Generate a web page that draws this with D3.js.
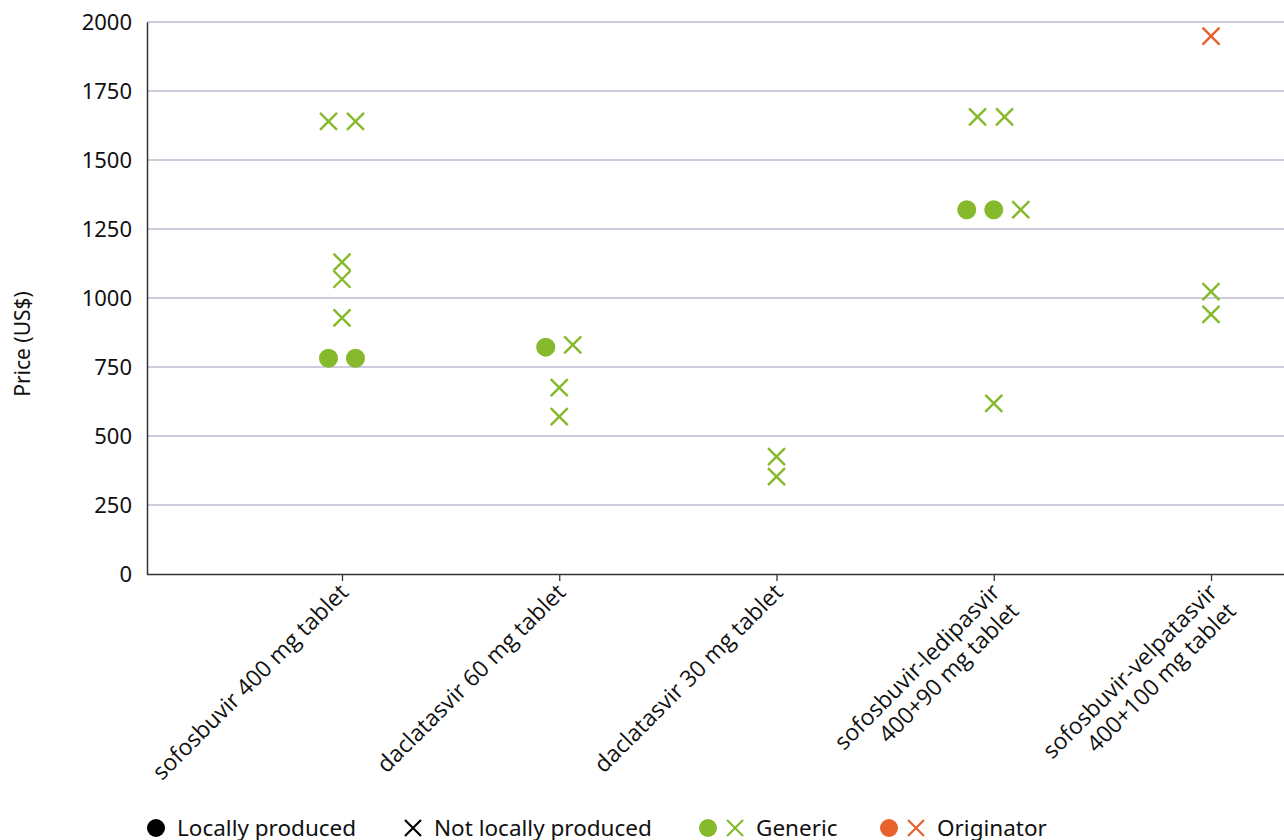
<!DOCTYPE html>
<html>
<head>
<meta charset="utf-8">
<script src="https://cdn.jsdelivr.net/npm/d3@7"></script>
<style>
  html, body { margin: 0; padding: 0; background: #fff; }
  svg { display: block; }
</style>
</head>
<body>
<svg id="chart" width="1284" height="840"></svg>
<script>
const categories = [
  ["sofosbuvir 400 mg tablet"],
  ["daclatasvir 60 mg tablet"],
  ["daclatasvir 30 mg tablet"],
  ["sofosbuvir-ledipasvir", "400+90 mg tablet"],
  ["sofosbuvir-velpatasvir", "400+100 mg tablet"]
];
const yTicks = [0, 250, 500, 750, 1000, 1250, 1500, 1750, 2000];

// one entry per marker
const pointCategory = [0, 0, 0, 0, 0, 0, 0,  1, 1, 1, 1,  2, 2,  3, 3, 3, 3, 3, 3,  4, 4, 4];
const pointPrice    = [1640, 1640, 1130, 1068, 928, 782, 782,  822, 830, 675, 570,  425, 353,  1656, 1656, 1320, 1320, 1320, 618,  1949, 1023, 941];
const pointLocal    = [false, false, false, false, false, true, true,  true, false, false, false,  false, false,  false, false, true, true, false, false,  false, false, false];
const pointProducer = ["Generic","Generic","Generic","Generic","Generic","Generic","Generic",
                       "Generic","Generic","Generic","Generic",
                       "Generic","Generic",
                       "Generic","Generic","Generic","Generic","Generic","Generic",
                       "Originator","Generic","Generic"];
const pointDodge    = [-0.5, 0.5, 0, 0, 0, -0.5, 0.5,  -0.5, 0.5, 0, 0,  0, 0,  -0.6, 0.4, -1, 0, 1, 0,  0, 0, 0];

const legendItems = [
  { label: "Locally produced", shapes: ["circle"], colors: ["#000"] },
  { label: "Not locally produced", shapes: ["cross"], colors: ["#000"] },
  { label: "Generic", shapes: ["circle", "cross"], colors: ["#86b92b", "#86b92b"] },
  { label: "Originator", shapes: ["circle", "cross"], colors: ["#e8612c", "#e8612c"] }
];

const colorScale = d3.scaleOrdinal().domain(["Generic", "Originator"]).range(["#86b92b", "#e8612c"]);

const svg = d3.select("#chart");
const plot = { left: 147, right: 1284, top: 22, bottom: 574 };

const x = d3.scalePoint()
  .domain(d3.range(categories.length))
  .range([342, 1211]);
const y = d3.scaleLinear().domain([0, 2000]).range([plot.bottom, plot.top]);
const dodgeStep = 27;

// gridlines
svg.append("g")
  .selectAll("line")
  .data(yTicks.filter(t => t > 0))
  .join("line")
  .attr("x1", plot.left).attr("x2", plot.right)
  .attr("y1", d => y(d)).attr("y2", d => y(d))
  .attr("stroke", "#bdbad0").attr("stroke-width", 1.3);

// y axis
const yAxis = svg.append("g")
  .attr("transform", `translate(${plot.left},0)`)
  .call(d3.axisLeft(y).tickValues(yTicks).tickSize(0).tickPadding(15).tickFormat(d3.format("d")));
yAxis.select(".domain").attr("stroke", "#333").attr("stroke-width", 1.5);
yAxis.selectAll("text")
  .attr("font-family", "'Noto Sans', sans-serif")
  .attr("font-size", 22)
  .attr("fill", "#111");

// x axis
const xAxis = svg.append("g")
  .attr("transform", `translate(0,${plot.bottom})`)
  .call(d3.axisBottom(x).tickSize(7).tickFormat(() => ""));
xAxis.select(".domain").attr("d", `M${plot.left},0.5H${plot.right}`).attr("stroke", "#333").attr("stroke-width", 1.5);
xAxis.selectAll(".tick line").attr("stroke", "#333").attr("stroke-width", 1.3);

// category labels
const labels = svg.append("g");
categories.forEach((lines, i) => {
  const t = labels.append("text")
    .attr("transform", `translate(${x(i) + 2},${plot.bottom + 14}) rotate(-45)`)
    .attr("text-anchor", "end")
    .attr("font-family", "'Open Sans', sans-serif")
    .attr("font-size", 23)
    .attr("fill", "#111");
  lines.forEach((ln, j) => {
    t.append("tspan").attr("x", 0).attr("dy", j === 0 ? "0.35em" : "1.15em").text(ln);
  });
});

// y label
svg.append("text")
  .attr("transform", `translate(30,344) rotate(-90)`)
  .attr("text-anchor", "middle")
  .attr("font-family", "'Noto Sans', sans-serif")
  .attr("font-size", 21)
  .attr("fill", "#111")
  .text("Price (US$)");

// markers
const pts = pointPrice.map((v, i) => ({
  cx: x(pointCategory[i]) + pointDodge[i] * dodgeStep,
  cy: y(v),
  local: pointLocal[i],
  color: colorScale(pointProducer[i])
}));
const R = 9.5, C = 8.5;
const marks = svg.append("g");
marks.selectAll("circle")
  .data(pts.filter(p => p.local))
  .join("circle")
  .attr("cx", d => d.cx).attr("cy", d => d.cy).attr("r", R)
  .attr("fill", d => d.color);
marks.selectAll("path")
  .data(pts.filter(p => !p.local))
  .join("path")
  .attr("d", d => `M${d.cx - C},${d.cy - C}L${d.cx + C},${d.cy + C}M${d.cx - C},${d.cy + C}L${d.cx + C},${d.cy - C}`)
  .attr("stroke", d => d.color).attr("stroke-width", 2.4).attr("fill", "none");

// legend
const legendX = [156, 413, 708, 889];
const legY = 828;
const leg = svg.append("g");
legendItems.forEach((item, i) => {
  let cx = legendX[i];
  item.shapes.forEach((s, k) => {
    if (s === "circle") {
      leg.append("circle").attr("cx", cx).attr("cy", legY).attr("r", 9).attr("fill", item.colors[k]);
    } else {
      const c = 8;
      leg.append("path")
        .attr("d", `M${cx - c},${legY - c}L${cx + c},${legY + c}M${cx - c},${legY + c}L${cx + c},${legY - c}`)
        .attr("stroke", item.colors[k]).attr("stroke-width", 2.2).attr("fill", "none");
    }
    cx += 27;
  });
  leg.append("text")
    .attr("x", cx - 27 + 21)
    .attr("y", legY)
    .attr("dy", "0.35em")
    .attr("font-family", "'Noto Sans', sans-serif")
    .attr("font-size", 22.5)
    .attr("fill", "#111")
    .text(item.label);
});
</script>
</body>
</html>
